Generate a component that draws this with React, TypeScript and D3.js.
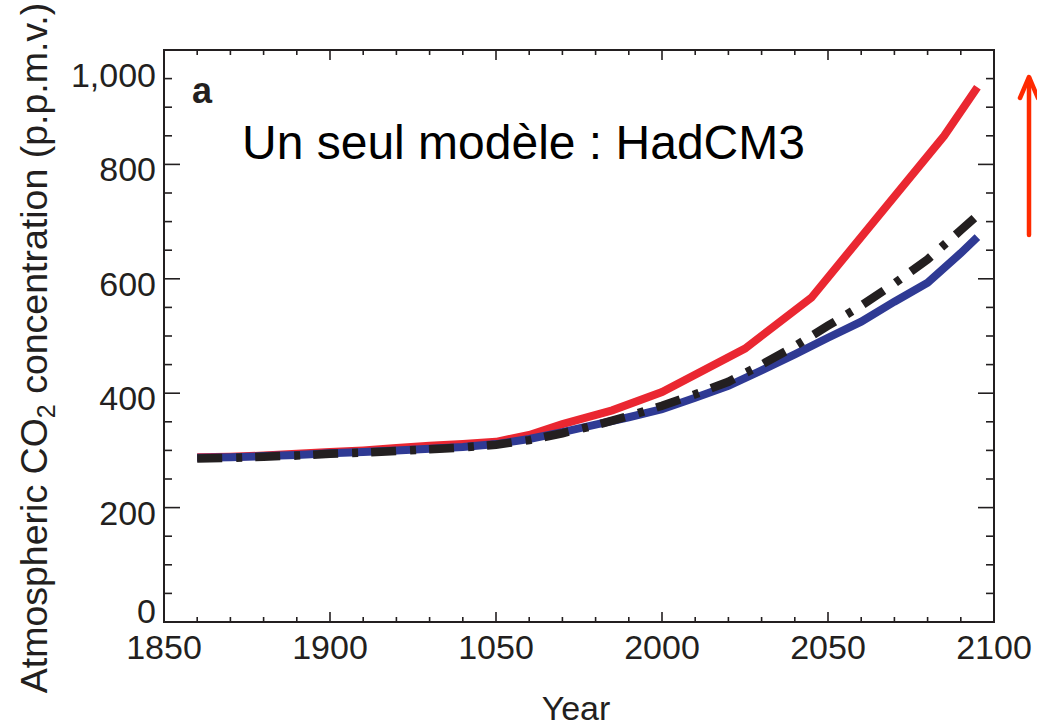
import React from "react";
import * as d3 from "d3";

// Atmospheric CO2 (p.p.m.v.) simulated with HadCM3
const redYears = [1860, 1870, 1880, 1890, 1900, 1910, 1920, 1930, 1940, 1950, 1960, 1970, 1985, 2000, 2025, 2045, 2085, 2095];
const redCO2 = [288, 289, 291, 294, 297, 300, 304, 308, 311, 315, 327, 346, 370, 402, 478, 567, 850, 935];

const blueYears = [1860, 1870, 1880, 1890, 1900, 1910, 1920, 1930, 1940, 1950, 1960, 1970, 1980, 1990, 2000, 2010, 2020, 2030, 2040, 2050, 2060, 2070, 2080, 2090, 2095];
const blueCO2 = [287, 288, 290, 292, 295, 297, 300, 303, 306, 311, 320, 332, 345, 358, 372, 392, 413, 440, 468, 497, 525, 560, 593, 645, 673];

const blackYears = [1860, 1870, 1880, 1890, 1900, 1910, 1920, 1930, 1940, 1950, 1960, 1970, 1980, 1990, 2000, 2010, 2020, 2030, 2040, 2050, 2060, 2070, 2080, 2090, 2095];
const blackCO2 = [286, 287, 289, 291, 294, 296, 299, 302, 305, 310, 318, 330, 344, 360, 378, 398, 420, 450, 482, 518, 553, 592, 634, 685, 711];

const xTickValues = [1850, 1900, 1950, 2000, 2050, 2100];
const xTickLabels = ["1850", "1900", "1050", "2000", "2050", "2100"];
const yTickValues = [0, 200, 400, 600, 800, 1000];
const yTickLabels = ["0", "200", "400", "600", "800", "1,000"];

const FONT = "'Liberation Sans', Arial, Helvetica, sans-serif";
const INK = "#231f20";

export default function App() {
  const W = 1037;
  const H = 728;
  const left = 164, right = 994, top = 50, bottom = 622;

  const x = d3.scaleLinear().domain([1850, 2100]).range([left, right]);
  const y = d3.scaleLinear().domain([0, 1000]).range([bottom, top]);

  const line = d3
    .line<[number, number]>()
    .x((d) => x(d[0]))
    .y((d) => y(d[1]));

  const red = line(redYears.map((yr, i) => [yr, redCO2[i]]))!;
  const blue = line(blueYears.map((yr, i) => [yr, blueCO2[i]]))!;
  const black = line(blackYears.map((yr, i) => [yr, blackCO2[i]]))!;

  const xMinor = d3.range(1860, 2100, 10);
  const yMinor = d3.range(50, 1000, 50);

  // label vertical offsets (baseline relative to tick)
  const yLabelDy = (v: number) => (v === 0 ? 1 : v === 1000 ? 37 : 17);

  return (
    <svg
      width={W}
      height={H}
      style={{ position: "absolute", left: 0, top: 0, background: "#fff" }}
      fontFamily={FONT}
    >
      <rect x={0} y={0} width={W} height={H} fill="#fff" />

      {/* series */}
      <path d={red} fill="none" stroke="#ea2731" strokeWidth={8} strokeLinejoin="miter" />
      <path d={blue} fill="none" stroke="#2f3a94" strokeWidth={8} strokeLinejoin="miter" />
      <path
        d={black}
        fill="none"
        stroke={INK}
        strokeWidth={8.5}
        strokeDasharray="25 14 6 13"
        strokeLinecap="butt"
      />

      {/* frame */}
      <rect x={left} y={top} width={right - left} height={bottom - top} fill="none" stroke={INK} strokeWidth={2} />

      {/* x ticks, bottom and top */}
      {xMinor.map((v) => {
        const major = v % 50 === 0;
        const len = major ? 10 : 5;
        return (
          <g key={"xt" + v} stroke={INK} strokeWidth={1.6}>
            <line x1={x(v)} x2={x(v)} y1={bottom} y2={bottom - len} />
            <line x1={x(v)} x2={x(v)} y1={top} y2={top + len} />
          </g>
        );
      })}

      {/* y ticks, left and right */}
      {yMinor.map((v) => {
        const major = v % 200 === 0;
        const len = major ? 16 : 8;
        return (
          <g key={"yt" + v} stroke={INK} strokeWidth={1.6}>
            <line x1={left} x2={left + len} y1={y(v)} y2={y(v)} />
            <line x1={right} x2={right - len} y1={y(v)} y2={y(v)} />
          </g>
        );
      })}

      {/* x tick labels */}
      {xTickValues.map((v, i) => (
        <text key={"xl" + v} x={x(v)} y={659} fontSize={34} fill={INK} textAnchor="middle">
          {xTickLabels[i]}
        </text>
      ))}

      {/* y tick labels */}
      {yTickValues.map((v, i) => (
        <text key={"yl" + v} x={156} y={y(v) + yLabelDy(v)} fontSize={34} fill={INK} textAnchor="end">
          {yTickLabels[i]}
        </text>
      ))}

      {/* axis titles */}
      <text x={576} y={720} fontSize={34} fill={INK} textAnchor="middle">
        Year
      </text>
      <text
        transform={`translate(47, 348) rotate(-90)`}
        fontSize={37.5}
        fill={INK}
        textAnchor="middle"
      >
        Atmospheric CO<tspan fontSize={25} dy={8}>2</tspan>
        <tspan dy={-8}> concentration (p.p.m.v.)</tspan>
      </text>

      {/* panel letter and caption */}
      <text x={192} y={103} fontSize={36} fontWeight={900} fill={INK}>
        a
      </text>
      <text x={242} y={159} fontSize={48} fill="#000">
        Un seul modèle : HadCM3
      </text>

      {/* red arrow */}
      <g stroke="#ff2a00" strokeWidth={4.5} fill="none" strokeLinecap="round" strokeLinejoin="round">
        <line x1={1029} y1={235} x2={1029} y2={78} />
        <polyline points="1020,98 1029,77 1038,98" />
      </g>
    </svg>
  );
}
